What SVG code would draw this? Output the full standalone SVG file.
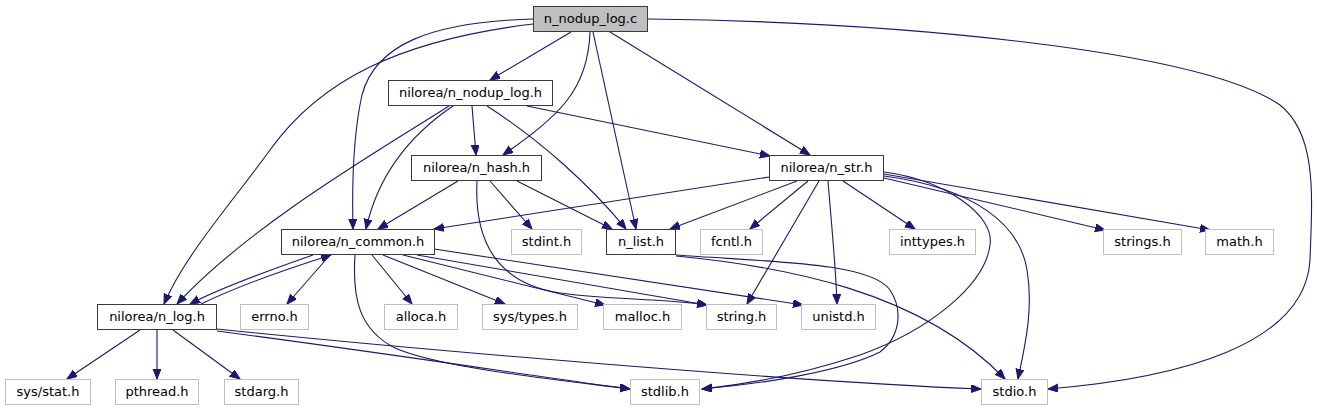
<svg xmlns="http://www.w3.org/2000/svg" width="1317" height="411" viewBox="0 0 1317 411">
<style>
text{font-family:"DejaVu Sans","Liberation Sans",sans-serif;font-size:13px;fill:#000;text-anchor:middle}
.d rect{fill:#fff;stroke:#3a3a3a;stroke-width:1}
.r rect{fill:#bfbfbf;stroke:#3a3a3a;stroke-width:1}
.s rect{fill:#fff;stroke:#bfbfbf;stroke-width:1}
#edges path{fill:none;stroke:#191970;stroke-width:1.1;marker-end:url(#ah)}
</style>
<defs>
<marker id="ah" markerWidth="11" markerHeight="9" refX="10" refY="4" orient="auto" markerUnits="userSpaceOnUse">
<path d="M0,0 L10,4 L0,8 z" fill="#191970" stroke="#191970" stroke-width="1"/>
</marker>
</defs>
<rect width="1317" height="411" fill="#fff"/>
<g id="edges">
<path d="M571,32 L490,80"/>
<path d="M533,19 C430,22 375,45 362,95 C352,140 352,190 353,229"/>
<path d="M533,24 C400,40 320,80 270,150 C230,205 185,255 164,304"/>
<path d="M590,32 C588,90 560,115 503,155"/>
<path d="M593,32 L636,229"/>
<path d="M610,32 L810,155"/>
<path d="M648,19 C900,22 1200,50 1280,105 C1318,135 1312,200 1310,260 C1305,345 1180,378 1048,389"/>
<path d="M472,106 L476,155"/>
<path d="M453,106 C410,135 378,175 366,229"/>
<path d="M449,106 C380,150 250,225 177,304"/>
<path d="M487,106 C540,140 590,185 626,229"/>
<path d="M527,106 L770,156"/>
<path d="M458,181 L378,229"/>
<path d="M490,181 L532,229"/>
<path d="M517,181 L612,229"/>
<path d="M477,181 C474,240 495,283 560,293 C610,300 660,298 707,305"/>
<path d="M769,177 L434,229"/>
<path d="M797,181 L670,229"/>
<path d="M808,181 L750,229"/>
<path d="M819,181 L747,304"/>
<path d="M828,181 C832,230 836,270 837,304"/>
<path d="M843,181 L915,229"/>
<path d="M884,178 L1105,230"/>
<path d="M884,174 L1210,230"/>
<path d="M884,172 C945,180 995,215 990,245 C985,285 930,330 860,355 C800,375 740,385 702,389"/>
<path d="M884,176 C975,188 1020,225 1027,270 C1034,310 1024,350 1018,379"/>
<path d="M676,255 C770,262 870,262 890,290 C902,308 902,335 880,352 C840,372 760,384 702,389"/>
<path d="M676,256 C780,266 920,290 1005,379"/>
<path d="M313,255 C270,270 220,288 190,304"/>
<path d="M201,304 C240,285 290,268 331,255"/>
<path d="M330,255 L287,304"/>
<path d="M372,255 L412,304"/>
<path d="M383,255 L505,304"/>
<path d="M403,255 L605,305"/>
<path d="M417,255 L707,305"/>
<path d="M434,249 L803,305"/>
<path d="M355,255 C352,300 360,330 395,348 C440,368 560,380 630,389"/>
<path d="M140,330 L67,379"/>
<path d="M157,330 L157,379"/>
<path d="M173,330 L240,379"/>
<path d="M217,331 C400,355 560,380 630,389"/>
<path d="M217,329 C420,350 800,382 981,389"/>
</g>
<g id="n_nodup_log_c" class="r"><rect x="533.5" y="6.5" width="114" height="25"/><text x="590.5" y="23">n_nodup_log.c</text></g>
<g id="n_nodup_log_h" class="d"><rect x="388.5" y="80.5" width="164" height="25"/><text x="470.5" y="97">nilorea/n_nodup_log.h</text></g>
<g id="n_hash_h" class="d"><rect x="411.5" y="155.5" width="130" height="25"/><text x="476.5" y="172">nilorea/n_hash.h</text></g>
<g id="n_str_h" class="d"><rect x="769.5" y="155.5" width="114" height="25"/><text x="826.5" y="172">nilorea/n_str.h</text></g>
<g id="n_common_h" class="d"><rect x="281.5" y="229.5" width="153" height="25"/><text x="358" y="246">nilorea/n_common.h</text></g>
<g id="stdint_h" class="s"><rect x="511.5" y="229.5" width="70" height="25"/><text x="546.5" y="246">stdint.h</text></g>
<g id="n_list_h" class="d"><rect x="606.5" y="229.5" width="69" height="25"/><text x="641" y="246">n_list.h</text></g>
<g id="fcntl_h" class="s"><rect x="700.5" y="229.5" width="62" height="25"/><text x="731.5" y="246">fcntl.h</text></g>
<g id="inttypes_h" class="s"><rect x="889.5" y="229.5" width="86" height="25"/><text x="932.5" y="246">inttypes.h</text></g>
<g id="strings_h" class="s"><rect x="1103.5" y="229.5" width="78" height="25"/><text x="1142.5" y="246">strings.h</text></g>
<g id="math_h" class="s"><rect x="1205.5" y="229.5" width="68" height="25"/><text x="1239.5" y="246">math.h</text></g>
<g id="n_log_h" class="d"><rect x="97.5" y="304.5" width="119" height="25"/><text x="157" y="321">nilorea/n_log.h</text></g>
<g id="errno_h" class="s"><rect x="240.5" y="304.5" width="68" height="25"/><text x="274.5" y="321">errno.h</text></g>
<g id="alloca_h" class="s"><rect x="384.5" y="304.5" width="73" height="25"/><text x="421" y="321">alloca.h</text></g>
<g id="sys_types_h" class="s"><rect x="482.5" y="304.5" width="95" height="25"/><text x="530" y="321">sys/types.h</text></g>
<g id="malloc_h" class="s"><rect x="603.5" y="304.5" width="78" height="25"/><text x="642.5" y="321">malloc.h</text></g>
<g id="string_h" class="s"><rect x="706.5" y="304.5" width="70" height="25"/><text x="741.5" y="321">string.h</text></g>
<g id="unistd_h" class="s"><rect x="801.5" y="304.5" width="74" height="25"/><text x="838.5" y="321">unistd.h</text></g>
<g id="sys_stat_h" class="s"><rect x="5.5" y="379.5" width="85" height="25"/><text x="48" y="396">sys/stat.h</text></g>
<g id="pthread_h" class="s"><rect x="115.5" y="379.5" width="83" height="25"/><text x="157" y="396">pthread.h</text></g>
<g id="stdarg_h" class="s"><rect x="224.5" y="379.5" width="74" height="25"/><text x="261.5" y="396">stdarg.h</text></g>
<g id="stdlib_h" class="s"><rect x="630.5" y="379.5" width="69" height="25"/><text x="665" y="396">stdlib.h</text></g>
<g id="stdio_h" class="s"><rect x="981.5" y="379.5" width="66" height="25"/><text x="1014.5" y="396">stdio.h</text></g>
</svg>
